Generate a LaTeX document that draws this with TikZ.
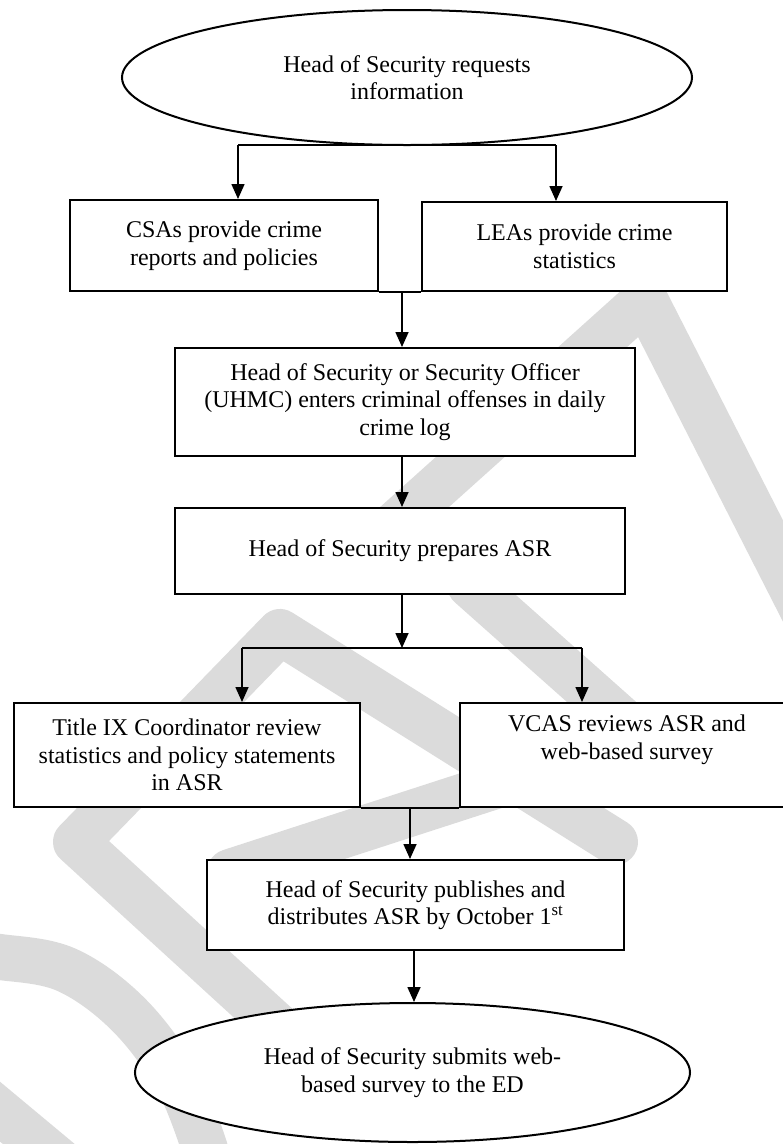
\documentclass[tikz,border=0pt]{standalone}
\usepackage{fontspec}
\setmainfont{Liberation Serif}
\usetikzlibrary{arrows.meta,shapes.geometric}
\begin{document}
\begin{tikzpicture}[x=1pt,y=-1pt,
  every node/.style={font=\fontsize{24}{27.6}\selectfont, align=center},
  stepbox/.style={draw, rectangle, line width=2pt, fill=white, inner sep=0pt},
  terminal/.style={draw, ellipse, line width=2pt, fill=white, inner sep=0pt},
  link/.style={line width=1.6pt},
  flow/.style={link, -{Triangle[length=15pt,width=13pt]}},
  wm/.style={line width=46pt, draw=black!14, line cap=round, line join=round}]
\useasboundingbox (0,0) rectangle (783,1144);
\begin{scope}
\clip (0,0) rectangle (783,1144);

% background watermark strokes
\draw[wm] (812,628) -- (645,300) -- (350,565);
\draw[wm] (380,1120) -- (76,842) -- (280,632) -- (615,842);
\draw[wm] (230,872) -- (560,765);
\draw[wm] plot[smooth, tension=0.6] coordinates {(-40,955) (0,957) (67,970) (130,1016) (180,1085) (210,1165)};
\draw[wm] (-20,1095) -- (70,1170);
\draw[wm] (470,585) -- (650,745);

% process steps
\node[terminal, minimum width=570pt, minimum height=135pt] (req) at (407,77.5) {Head of Security requests\\information};
\node[stepbox, minimum width=308pt, minimum height=91pt] (csa) at (224,245.5) {CSAs provide crime\\reports and policies};
\node[stepbox, minimum width=305pt, minimum height=89pt] (lea) at (574.5,246.5) {LEAs provide crime\\statistics};
\node[stepbox, minimum width=460pt, minimum height=108pt] (log) at (405,402) {Head of Security or Security Officer\\(UHMC) enters criminal offenses in daily\\crime log};
\node[stepbox, minimum width=450pt, minimum height=86pt] (asr) at (400,551) {Head of Security prepares ASR};
\node[stepbox, minimum width=346pt, minimum height=104pt] (tix) at (187,755) {Title IX Coordinator review\\statistics and policy statements\\in ASR};
\node[stepbox, minimum width=334pt, minimum height=104pt] (vcas) at (627,755) {VCAS reviews ASR and\\web-based survey\\\strut};
\node[stepbox, minimum width=417pt, minimum height=90pt] (pub) at (415.5,905) {Head of Security publishes and\\distributes ASR by October 1\textsuperscript{st}};
\node[terminal, minimum width=555pt, minimum height=139pt] (sub) at (412.5,1072.5) {Head of Security submits web-\\based survey to the ED};

% connectors
\coordinate (s1) at (238,145);
\coordinate (s2) at (556,145);
\draw[link] (s1) -- (s2);
\draw[flow] (s1) -- (s1 |- csa.north);
\draw[flow] (s2) -- (s2 |- lea.north);

\draw[link] (csa.south east) -- (lea.south west);
\coordinate (m1) at (402,291);
\draw[flow] (m1) -- (m1 |- log.north);
\draw[flow] (m1 |- log.south) -- (m1 |- asr.north);

\coordinate (m2) at (402,648);
\coordinate (b1) at (242,648);
\coordinate (b2) at (582,648);
\draw[flow] (m1 |- asr.south) -- (m2);
\draw[link] (b1) -- (b2);
\draw[flow] (b1) -- (b1 |- tix.north);
\draw[flow] (b2) -- (b2 |- vcas.north);

\draw[link] (tix.south east) -- (vcas.south west);
\coordinate (m3) at (410,807);
\draw[flow] (m3) -- (m3 |- pub.north);
\coordinate (m4) at (414,950);
\draw[flow] (m4) -- (m4 |- sub.north);
\end{scope}
\end{tikzpicture}
\end{document}
